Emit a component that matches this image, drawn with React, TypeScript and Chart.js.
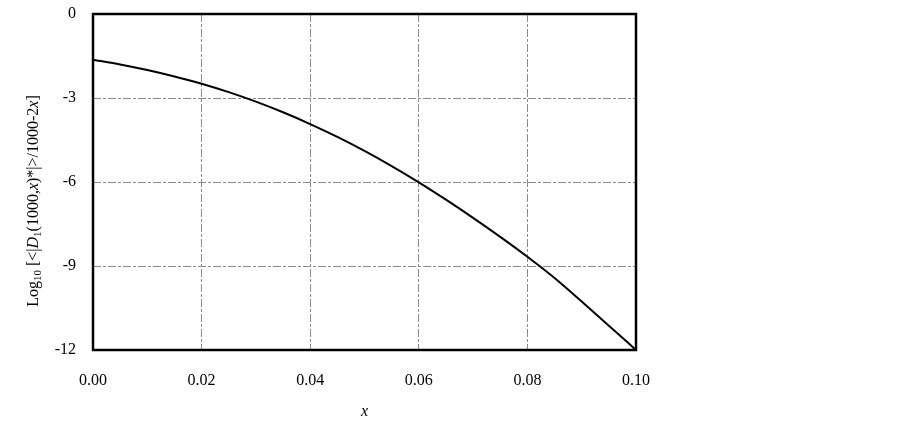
import React, { useEffect, useRef } from "react";
import { Chart, registerables } from "chart.js";

Chart.register(...registerables);

const xValues = [0, 0.005, 0.01, 0.015, 0.02, 0.025, 0.03, 0.035, 0.04, 0.045, 0.05, 0.055, 0.06, 0.065, 0.07, 0.075, 0.08, 0.085, 0.09, 0.095, 0.1];
const yValues = [-1.63, -1.8, -2.0, -2.23, -2.49, -2.79, -3.13, -3.51, -3.93, -4.39, -4.89, -5.43, -6.01, -6.63, -7.28, -7.96, -8.67, -9.43, -10.27, -11.13, -12];

const xTicks = [0, 0.02, 0.04, 0.06, 0.08, 0.1];
const yTicks = [0, -3, -6, -9, -12];
const xTitle = "x";
const yTitleParts: { t: string; style: "n" | "i" | "sub" }[] = [
  { t: "Log", style: "n" },
  { t: "10", style: "sub" },
  { t: " [<|", style: "n" },
  { t: "D", style: "i" },
  { t: "1", style: "sub" },
  { t: "(1000,", style: "n" },
  { t: "x", style: "i" },
  { t: ")*|>/1000-2", style: "n" },
  { t: "x", style: "i" },
  { t: "]", style: "n" },
];

const FONT = "'Liberation Serif', 'Times New Roman', serif";

const framePlugin = {
  id: "frame",
  afterDraw(chart: any) {
    const { ctx, chartArea } = chart;
    ctx.save();
    ctx.strokeStyle = "#000";
    ctx.lineWidth = 2.5;
    ctx.strokeRect(chartArea.left, chartArea.top, chartArea.right - chartArea.left, chartArea.bottom - chartArea.top);
    ctx.restore();

    // y-axis title with mixed styles
    ctx.save();
    ctx.fillStyle = "#000";
    ctx.textBaseline = "alphabetic";
    const fontFor = (s: string) =>
      s === "i" ? `italic 16px ${FONT}` : s === "sub" ? `11px ${FONT}` : `16px ${FONT}`;
    let total = 0;
    const widths = yTitleParts.map((p) => {
      ctx.font = fontFor(p.style);
      const w = ctx.measureText(p.t).width;
      total += w;
      return w;
    });
    const cy = (chartArea.top + chartArea.bottom) / 2 + 19;
    ctx.translate(38, cy);
    ctx.rotate(-Math.PI / 2);
    let x = -total / 2;
    yTitleParts.forEach((p, i) => {
      ctx.font = fontFor(p.style);
      ctx.fillText(p.t, x, p.style === "sub" ? 3 : 0);
      x += widths[i];
    });
    ctx.restore();
  },
};

export default function App() {
  const ref = useRef<HTMLCanvasElement>(null);
  useEffect(() => {
    document.body.style.margin = "0";
    const data = xValues.map((x, i) => ({ x, y: yValues[i] }));
    const chart = new Chart(ref.current!, {
      type: "line",
      data: {
        datasets: [
          {
            data,
            borderColor: "#000",
            borderWidth: 2,
            pointRadius: 0,
            cubicInterpolationMode: "monotone",
            fill: false,
          },
        ],
      },
      options: {
        animation: false,
        responsive: false,
        devicePixelRatio: 1,
        layout: { padding: { top: 14, right: 266, left: 0, bottom: 0 } },
        plugins: { legend: { display: false }, tooltip: { enabled: false } },
        scales: {
          x: {
            type: "linear",
            min: 0,
            max: 0.1,
            afterBuildTicks: (s: any) => {
              s.ticks = xTicks.map((v) => ({ value: v }));
            },
            afterFit: (s: any) => {
              s.height = 75;
              s.paddingLeft = 0;
              s.paddingRight = 0;
            },
            ticks: {
              callback: (v: any) => Number(v).toFixed(2),
              font: { family: FONT, size: 16 },
              color: "#000",
              padding: 21,
              maxRotation: 0,
            },
            grid: { color: "#8a8a8a", lineWidth: 1, drawTicks: false },
            border: { display: false, dash: [8, 2, 3, 2] },
            title: {
              display: true,
              text: xTitle,
              font: { family: FONT, size: 16, style: "italic" },
              color: "#000",
              padding: { top: 0, bottom: 4 },
            },
          },
          y: {
            type: "linear",
            min: -12,
            max: 0,
            afterBuildTicks: (s: any) => {
              s.ticks = yTicks.map((v) => ({ value: v }));
            },
            afterFit: (s: any) => {
              s.width = 93;
              s.paddingTop = 0;
              s.paddingBottom = 0;
            },
            ticks: {
              font: { family: FONT, size: 16 },
              color: "#000",
              padding: 17,
            },
            grid: { color: "#8a8a8a", lineWidth: 1, drawTicks: false },
            border: { display: false, dash: [8, 2, 3, 2] },
          },
        },
      },
      plugins: [framePlugin],
    } as any);
    return () => chart.destroy();
  }, []);
  return (
    <div style={{ width: 902, height: 425 }}>
      <canvas ref={ref} width={902} height={425} style={{ display: "block" }} />
    </div>
  );
}
